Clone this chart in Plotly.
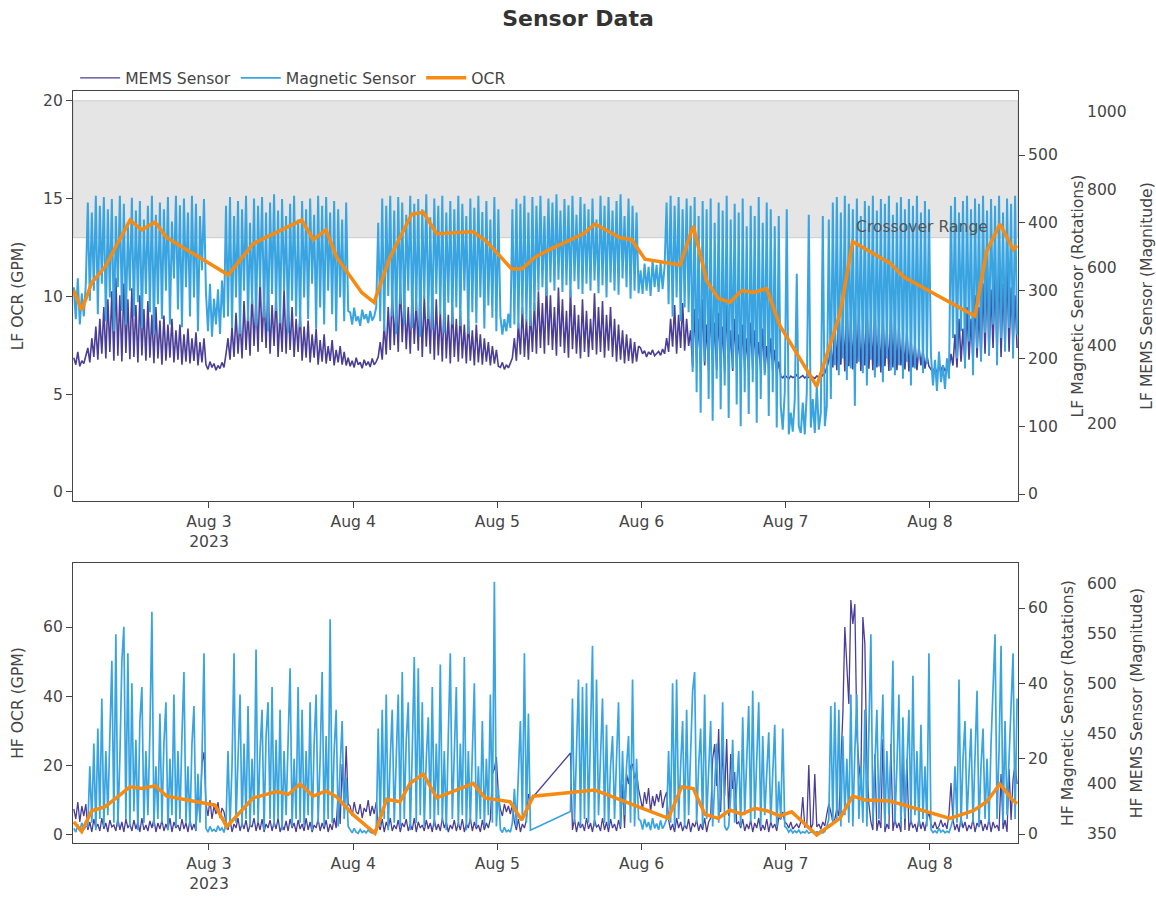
import pandas as pd
import plotly.graph_objects as go

# ---------------------------------------------------------------------------
# Sensor readings, sampled every 20 minutes from 2023-08-02 01:30
# ---------------------------------------------------------------------------
START = "2023-08-02 01:30"
STEP = "20min"

# Low-flow magnetic sensor (rotations)
LF_MAGNETIC = [
    305, 258, 318, 250, 296, 262, 310,
    430, 285, 415, 300, 440, 265, 425, 310, 438, 255, 420, 290, 435, 240, 410, 305, 440, 270, 428, 250,
    395, 300, 437, 262, 418, 283, 432, 245, 405, 295, 425, 268, 440, 236, 412, 280, 430, 258, 420, 300,
    438, 250, 402, 318, 440, 272, 426, 246, 436, 305, 415, 262, 440, 290, 428, 240, 410, 330, 435,
    296, 240, 310, 232, 288, 250, 302, 236, 315, 260,
    425, 262, 438, 245, 410, 290, 432, 236, 420, 300, 440, 255, 400, 280, 436, 248, 425, 305, 438, 260,
    415, 240, 430, 295, 442, 270, 418, 252, 435, 300, 410, 238, 428, 285, 440, 262, 405, 246, 432, 290,
    420, 258, 436, 310, 412, 244, 440, 275, 425, 250, 438, 300, 415, 265, 432, 240, 420, 290, 405, 255,
    430, 270,
    268, 250, 275, 255, 262, 248, 272, 258, 265, 252, 270, 256, 262, 275,
    400, 255, 436, 240, 425, 292, 440, 262, 418, 236, 438, 280, 430, 250, 412, 300, 440, 245, 428, 270,
    435, 232, 420, 288, 442, 258, 408, 242, 436, 295, 425, 265, 440, 238, 415, 282, 432, 250, 420, 275,
    440, 248, 428, 300, 410, 236, 436, 268, 422, 252, 440, 290, 416, 244, 432, 278, 405, 260, 438, 240,
    420,
    262, 235, 258, 240, 266, 245,
    420, 250, 436, 244, 428, 265, 440, 255, 415, 248, 438, 270, 425, 300, 440, 305, 410, 292, 436, 312,
    430, 300, 442, 316, 418, 298, 435, 308, 426, 290, 440, 314, 412, 302, 438, 295, 428, 310, 420, 300,
    436, 315, 405, 296, 440, 308, 425, 290, 438, 312, 418, 300, 432, 294, 442, 318, 410, 305, 436, 288,
    425, 300, 415, 296,
    330, 295, 340, 300, 335, 292, 345, 305, 338, 298, 342, 302, 336,
    430, 280, 440, 262, 425, 290, 438, 255, 420, 275, 436, 268,
    425, 180, 438, 150, 410, 120, 432, 195, 420, 140, 436, 108, 400, 170, 430, 125, 418, 160, 440, 112,
    405, 185, 428, 132, 415, 100, 436, 150, 395, 118, 425, 165, 410, 105, 438, 140, 400, 175, 430, 115,
    420, 150, 395, 98, 410,
    130, 95, 150, 420, 88, 120, 92, 140, 325, 100, 90, 135, 88, 150, 412, 98, 140, 90, 160, 95,
    120, 410, 100, 130, 405,
    140, 430, 190, 438, 175, 415, 200, 440, 168, 428, 185, 420, 130, 436, 195, 410, 178, 432, 160, 425,
    198, 440, 172, 418, 188, 435, 165, 428, 200, 440, 182, 412, 175, 430, 190, 438, 170, 420, 195, 435,
    160, 425, 185, 440, 200, 415, 178, 432, 192, 420,
    205, 160, 198, 152, 210, 165, 190, 155, 200, 170,
    425, 230, 438, 200, 415, 240, 432, 185, 440, 225, 420, 175, 436, 215, 428, 195, 440, 238, 418, 205,
    435, 250, 425, 190, 440, 230, 415, 210, 436, 245, 428, 200, 440, 235,
]

# Low-flow MEMS sensor (magnitude)
LF_MEMS = [
    370, 352, 385, 348, 362, 355, 375,
    395, 358, 420, 372, 450, 365, 470, 380, 500, 368, 520, 385, 540, 362, 575, 375, 530, 360, 560, 382,
    520, 366, 548, 372, 505, 358, 530, 376, 495, 362, 515, 370, 480, 356, 500, 368, 465, 352, 478, 362,
    455, 370, 470, 358, 440, 365, 455, 352, 430, 360, 445, 355, 420, 362, 435, 350, 410, 358, 420,
    352, 340, 360, 345, 355, 338, 350, 342, 358, 345,
    380, 420, 365, 450, 372, 485, 380, 470, 368, 515, 390, 490, 375, 540, 400, 520, 385, 575, 410, 530,
    395, 560, 380, 505, 400, 535, 372, 490, 385, 545, 380, 520, 390, 500, 372, 470, 385, 490, 362, 450,
    370, 465, 358, 430, 370, 445, 352, 415, 360, 430, 355, 400, 362, 415, 350, 390, 358, 400, 352, 385,
    350, 370,
    348, 362, 345, 370, 352, 358, 343, 365, 350, 360, 346, 368, 352, 360,
    372, 410, 365, 455, 378, 500, 390, 545, 402, 520, 385, 570, 410, 530, 392, 500, 380, 545, 405, 515,
    388, 560, 372, 530, 398, 505, 380, 548, 365, 520, 376, 490, 360, 525, 368, 480, 355, 505, 372, 470,
    360, 490, 368, 455, 355, 470, 362, 440, 350, 455, 358, 430, 352, 420, 360, 410, 350, 400, 355, 390,
    348,
    345, 358, 340, 352, 344, 356,
    370, 420, 362, 460, 378, 500, 372, 470, 365, 490, 385, 510, 380, 540, 395, 510, 380, 565, 402, 530,
    390, 500, 375, 550, 398, 520, 382, 490, 370, 545, 392, 505, 380, 480, 368, 520, 385, 490, 372, 470,
    390, 535, 378, 500, 385, 515, 370, 480, 388, 500, 372, 470, 360, 455, 365, 440, 355, 430, 362, 420,
    355, 410, 360, 400,
    395, 380, 388, 372, 385, 378, 390, 375, 382, 386, 376, 392, 380,
    420, 385, 470, 398, 505, 380, 480, 395, 510, 388, 470, 400,
    440, 345, 495, 360, 470, 335, 520, 350, 455, 340, 500, 355, 460, 338, 485, 348, 450, 332, 505, 352,
    440, 336, 470, 345, 430, 330, 455, 342, 420, 335, 460, 340, 440, 350, 410, 335, 445, 330, 400, 342,
    420, 335, 390, 330, 360,
    322, 318, 325, 320, 316, 323, 319, 321, 326, 317, 320, 324, 318, 322, 319, 325, 320, 317, 323, 321,
    318, 326, 330, 345, 362,
    400, 345, 460, 338, 505, 352, 480, 335, 530, 348, 470, 340, 510, 355, 490, 336, 455, 350, 520, 342,
    475, 338, 500, 345, 460, 332, 485, 348, 450, 336, 495, 345, 470, 338, 455, 350, 430, 340, 445, 335,
    420, 345, 410, 338, 400, 350, 390, 342, 375, 348,
    340, 335, 345, 332, 342, 338, 350, 336, 344, 340,
    380, 350, 430, 345, 470, 360, 445, 352, 500, 365, 470, 358, 530, 370, 500, 362, 560, 380, 590, 375,
    545, 395, 580, 380, 610, 372, 560, 390, 600, 385, 550, 400, 530, 395,
]

# High-flow magnetic sensor (rotations); None marks the logging outage on Aug 5
HF_MAGNETIC = [
    1.5, 0.5, 2.5, 0.8, 3.0, 1.2, 2.0,
    2, 18, 3, 24, 1, 28, 4, 36, 2, 22, 5, 26, 46, 3, 53, 2, 20, 46, 55, 4,
    48, 2, 40, 6, 25, 1, 30, 39, 3, 22, 5, 27, 59, 2, 18, 4, 32, 3, 24, 35,
    1, 20, 5, 37, 2, 22, 4, 26, 43, 3, 18, 2, 24, 34, 1, 16, 3, 20, 48,
    1.5, 0.5, 2.0, 0.8, 1.2, 0.6, 2.2, 0.9, 1.6, 0.4,
    3, 22, 2, 18, 48, 3, 20, 37, 2, 24, 4, 34, 2, 20, 5, 49, 3, 22, 33, 1,
    26, 35, 4, 39, 2, 25, 4, 33, 1, 22, 5, 28, 44, 2, 20, 4, 39, 3, 33, 2,
    22, 5, 35, 1, 24, 37, 3, 20, 43, 2, 26, 4, 57, 3, 22, 33, 2, 18, 30, 4,
    15, 2,
    1.0, 0.3, 1.5, 0.5, 0.2, 1.2, 0.4, 0.8, 0.3, 1.1, 0.5, 0.2, 0.9, 0.4,
    28, 2, 33, 4, 37, 1, 20, 33, 3, 22, 37, 2, 43, 4, 25, 35, 1, 22, 47, 3,
    44, 5, 35, 2, 20, 31, 4, 39, 2, 24, 5, 45, 3, 22, 1, 26, 48, 4, 20, 39,
    2, 24, 5, 47, 1, 22, 3, 25, 40, 2, 18, 4, 30, 2, 20, 5, 37, 3, 67, 2,
    12,
    1.2, 0.4, 1.8, 0.6, 1.0, 0.5,
    3, 12, 2, 18, 30, 4, 48, 3, 32, 1,
    None, None, None, None, None, None, None, None, None, None,
    None, None, None, None, None, None, None, None, None,
    6, 36, 3, 22, 41, 2, 39, 4, 40, 3, 24, 50, 2, 41, 5, 20, 36, 3, 29, 2,
    18, 26, 4, 20, 35, 2, 22, 5, 18, 26, 3, 41, 2, 20, 4,
    3.5, 1.2, 4.0, 1.8, 3.2, 1.0, 4.2, 1.5, 2.8, 1.1, 3.6, 1.4, 2.5, 4.0,
    22, 3, 40, 2, 41, 4, 18, 30, 2, 33, 5, 20, 38, 43, 3, 18, 28, 2, 37, 4,
    16, 30, 2, 15, 24, 3, 12, 35, 2, 1, 2, 10, 25, 3, 14, 22, 2, 31, 5, 18,
    34, 3, 38, 4, 20, 35, 2, 26, 5, 16, 27, 3, 18, 29, 2, 14, 4, 28, 2,
    1.5, 0.5, 1.2, 0.3, 0.8, 0.4, 1.0, 0.2, 0.6, 0.3, 0.9, 0.2, 0.5, 0.8, 0.3, 0.6,
    0.4, 1.0, 0.3, 0.7, 2.0, 4.0,
    34, 3, 35, 4, 33, 2, 26, 5, 20, 3, 37, 2, 22, 37, 4, 18, 3, 33, 2, 24,
    53, 3, 20, 33, 4, 18, 37, 2, 22, 5, 20, 46, 3, 18, 37, 2, 31, 4, 20, 33,
    3, 42, 5, 22, 2, 29, 4, 18, 2, 48,
    1.2, 0.4, 0.8, 0.3, 1.5, 0.5, 1.0, 0.3, 0.7, 0.4, 2.0,
    4, 18, 3, 41, 2, 20, 30, 4, 16, 28, 3, 22, 38, 2, 18, 28, 4, 20, 3, 24,
    41, 53, 4, 22, 50, 3, 30, 5, 20, 36, 48, 4, 36,
]

# High-flow MEMS sensor (magnitude)
HF_MEMS = [
    375, 365, 382, 362, 378, 368, 380,
    354, 362, 352, 365, 356, 360, 353, 366, 355, 361, 352, 364, 357, 359, 353, 366, 354, 362, 352, 365,
    356, 360, 353, 364, 355, 362, 352, 366, 354, 359, 353, 363, 356, 365, 352, 361, 355, 364, 353, 360,
    354, 366, 352, 362, 356, 359, 353, 365, 355, 361, 352, 364, 354, 360, 353, 395, 365, 420, 432,
    380, 368, 384, 365, 378, 370, 382, 366, 376, 372,
    362, 354, 365, 352, 360, 356, 366, 353, 361, 355, 364, 352, 359, 357, 366, 353, 362, 354, 365, 352,
    360, 356, 364, 353, 362, 355, 366, 352, 359, 354, 363, 353, 365, 356, 361, 352, 364, 355, 360, 353,
    366, 354, 362, 352, 359, 356, 365, 353, 361, 355, 364, 352, 360, 354, 366, 356, 392, 360, 420, 380,
    438, 380,
    378, 368, 382, 372, 370, 380, 366, 376, 372, 384, 368, 378, 370, 382,
    360, 354, 365, 352, 362, 356, 366, 353, 359, 355, 364, 352, 361, 357, 365, 353, 360, 354, 366, 352,
    362, 356, 359, 353, 364, 355, 361, 352, 365, 354, 360, 353, 366, 356, 362, 352, 359, 355, 364, 353,
    361, 354, 365, 352, 360, 356, 366, 353, 362, 355, 359, 352, 364, 354, 361, 356, 365, 410, 415, 427,
    390,
    375, 368, 380, 372, 378, 370,
    380, 362, 354, 365, 352, 360, 356, 364, 390, 384,
    None, None, None, None, None, None, None, None, None, None,
    None, None, None, None, None, None, None, None, None,
    431, 354, 365, 352, 362, 356, 360, 353, 366, 355, 361, 352, 364, 357, 359, 353, 366, 354, 362, 352,
    365, 356, 360, 353, 364, 355, 400, 356, 410, 400, 418, 420, 405, 412, 395,
    385, 375, 392, 380, 396, 372, 388, 378, 390, 382, 394, 376, 386, 392,
    364, 354, 360, 352, 366, 356, 362, 353, 359, 355, 365, 352, 361, 357, 364, 353, 360, 354, 366, 352,
    362, 366, 425, 440, 398, 455, 372, 438, 388, 445, 368, 430, 395, 412, 360, 362, 356, 365, 353, 360,
    355, 364, 352, 361, 356, 366, 353, 359, 354, 365, 352, 362, 356, 360, 353, 366, 365, 372, 362,
    360, 356, 362, 355, 358, 360, 356, 362, 387, 357, 358, 419, 355, 360, 410, 357, 360, 355, 362, 358,
    370, 380,
    372, 362, 365, 375, 368, 420, 470, 557, 520, 480, 584, 560, 580, 450, 420, 400, 567, 540, 420, 380,
    362, 354, 430, 353, 364, 356, 445, 352, 360, 355, 440, 353, 365, 356, 361, 352, 430, 354, 425, 353,
    364, 356, 360, 352, 366, 355, 362, 353, 365, 372,
    360, 356, 362, 355, 358, 364, 357, 361, 355, 370, 401,
    364, 354, 360, 352, 366, 356, 362, 353, 359, 355, 365, 352, 361, 357, 364, 353, 360, 354, 366, 352,
    362, 356, 359, 353, 410, 355, 364, 352, 415, 364, 405, 420, 400,
]

# Observed consumption rate (GPM) at each meter check
LF_OCR_TIME = [
    "2023-08-02 01:30", "2023-08-02 02:49", "2023-08-02 04:29", "2023-08-02 06:41",
    "2023-08-02 10:51", "2023-08-02 12:48", "2023-08-02 15:01", "2023-08-02 16:58",
    "2023-08-03 03:13", "2023-08-03 07:22", "2023-08-03 15:26", "2023-08-03 17:22",
    "2023-08-03 19:28", "2023-08-03 21:15", "2023-08-04 01:25", "2023-08-04 03:28",
    "2023-08-04 06:08", "2023-08-04 09:44", "2023-08-04 11:40", "2023-08-04 13:54",
    "2023-08-04 19:59", "2023-08-04 22:13", "2023-08-05 02:23", "2023-08-05 04:03",
    "2023-08-05 06:16", "2023-08-05 08:45", "2023-08-05 14:18", "2023-08-05 16:15",
    "2023-08-05 20:25", "2023-08-05 22:21", "2023-08-06 00:34", "2023-08-06 06:24",
    "2023-08-06 08:36", "2023-08-06 10:50", "2023-08-06 12:46", "2023-08-06 14:43",
    "2023-08-06 16:40", "2023-08-06 18:36", "2023-08-06 20:49", "2023-08-06 23:02",
    "2023-08-07 05:09", "2023-08-07 09:01", "2023-08-07 11:08", "2023-08-07 17:21",
    "2023-08-07 19:34", "2023-08-08 07:29", "2023-08-08 09:26", "2023-08-08 11:39",
    "2023-08-08 13:52", "2023-08-08 14:30",
]
LF_OCR = [
    10.3, 9.3, 10.7, 11.5, 13.9, 13.4, 13.8, 13.0, 11.1, 12.7, 13.9, 12.9, 13.4, 12.0,
    10.2, 9.7, 12.0, 14.2, 14.3, 13.2, 13.3, 12.8, 11.4, 11.4, 12.0, 12.4, 13.2, 13.7,
    13.0, 12.9, 11.9, 11.6, 13.6, 10.8, 9.9, 9.7, 10.3, 10.2, 10.4, 8.5, 5.4, 9.1,
    12.8, 11.7, 11.0, 9.0, 12.3, 13.7, 12.4, 12.6,
]

HF_OCR_TIME = [
    "2023-08-02 01:30", "2023-08-02 02:49", "2023-08-02 04:29", "2023-08-02 06:41",
    "2023-08-02 10:51", "2023-08-02 12:48", "2023-08-02 15:01", "2023-08-02 16:58",
    "2023-08-03 01:00", "2023-08-03 02:57", "2023-08-03 07:22", "2023-08-03 11:16",
    "2023-08-03 13:12", "2023-08-03 15:09", "2023-08-03 17:22", "2023-08-03 19:28",
    "2023-08-03 21:15", "2023-08-04 00:01", "2023-08-04 03:38", "2023-08-04 05:35",
    "2023-08-04 07:47", "2023-08-04 09:27", "2023-08-04 11:40", "2023-08-04 13:54",
    "2023-08-04 19:59", "2023-08-04 21:56", "2023-08-05 02:06", "2023-08-05 04:03",
    "2023-08-05 05:59", "2023-08-05 16:15", "2023-08-06 04:27", "2023-08-06 06:41",
    "2023-08-06 08:36", "2023-08-06 10:34", "2023-08-06 12:46", "2023-08-06 14:43",
    "2023-08-06 16:40", "2023-08-06 18:53", "2023-08-06 20:49", "2023-08-06 23:02",
    "2023-08-07 00:59", "2023-08-07 05:09", "2023-08-07 09:01", "2023-08-07 11:08",
    "2023-08-07 13:11", "2023-08-07 17:21", "2023-08-08 03:20", "2023-08-08 07:13",
    "2023-08-08 09:26", "2023-08-08 11:39", "2023-08-08 13:46", "2023-08-08 14:30",
]
HF_OCR = [
    3.8, 1.0, 7.0, 8.1, 13.9, 13.4, 14.2, 11.2, 8.6, 2.4, 10.7, 12.5, 11.7, 14.7,
    11.2, 12.7, 11.0, 5.8, 0.5, 10.3, 9.6, 14.9, 17.6, 10.7, 14.9, 10.7, 9.6, 4.3,
    11.2, 12.95, 4.8, 13.9, 13.4, 5.95, 4.8, 7.2, 6.0, 7.7, 7.0, 5.5, 6.7, 0.0,
    4.8, 11.2, 10.1, 9.8, 4.8, 7.0, 9.6, 14.7, 10.1, 9.0,
]

# ---------------------------------------------------------------------------
# Styling
# ---------------------------------------------------------------------------
FONT = "Verdana, DejaVu Sans, sans-serif"
TEXT = "#454545"
PURPLE = "#4a3f97"
BLUE = "#3aa4e0"
ORANGE = "#f78b12"
FS = 15.6

X_RANGE = ["2023-08-02 01:22", "2023-08-08 14:39"]
X_DOMAIN = [0, 0.8766]
FREE_POS = 0.9397
TOP_DOMAIN = [0.4548, 1.0]
BOTTOM_DOMAIN = [0.0, 0.3723]

# sample timestamps as plain strings
t_lf = pd.date_range(START, periods=len(LF_MAGNETIC), freq=STEP).strftime("%Y-%m-%d %H:%M").tolist()
t_hf = pd.date_range(START, periods=len(HF_MAGNETIC), freq=STEP).strftime("%Y-%m-%d %H:%M").tolist()

fig = go.Figure()

# High-flow panel (carries the legend entries): MEMS on the base axis,
# magnetic and OCR on overlaid axes drawn above it
fig.add_trace(go.Scatter(x=t_hf, y=HF_MEMS, name="MEMS Sensor", mode="lines",
                         line=dict(color=PURPLE, width=1.3), connectgaps=True,
                         xaxis="x2", yaxis="y4", legendgroup="mems"))
fig.add_trace(go.Scatter(x=t_hf, y=HF_MAGNETIC, name="Magnetic Sensor", mode="lines",
                         line=dict(color=BLUE, width=1.7), connectgaps=True,
                         xaxis="x2", yaxis="y5", legendgroup="mag"))
fig.add_trace(go.Scatter(x=HF_OCR_TIME, y=HF_OCR, name="OCR", mode="lines",
                         line=dict(color=ORANGE, width=3.5),
                         xaxis="x2", yaxis="y6", legendgroup="ocr"))

# Low-flow panel
fig.add_trace(go.Scatter(x=t_lf, y=LF_MEMS, name="MEMS Sensor", mode="lines",
                         line=dict(color=PURPLE, width=1.6),
                         xaxis="x", yaxis="y", legendgroup="mems", showlegend=False))
fig.add_trace(go.Scatter(x=t_lf, y=LF_MAGNETIC, name="Magnetic Sensor", mode="lines",
                         line=dict(color=BLUE, width=2.0),
                         xaxis="x", yaxis="y2", legendgroup="mag", showlegend=False))
fig.add_trace(go.Scatter(x=LF_OCR_TIME, y=LF_OCR, name="OCR", mode="lines",
                         line=dict(color=ORANGE, width=3.5),
                         xaxis="x", yaxis="y3", legendgroup="ocr", showlegend=False))

tickfont = dict(family=FONT, size=FS, color=TEXT)
titlefont = dict(family=FONT, size=FS, color=TEXT)
base = dict(showgrid=False, zeroline=False, tickfont=tickfont,
            linecolor=TEXT, tickcolor=TEXT, ticklen=6, tickwidth=1)


def make_xaxis(anchor):
    return dict(base, domain=X_DOMAIN, anchor=anchor, range=X_RANGE, type="date",
                showline=True, mirror=True, ticks="outside",
                dtick=86400000, tick0="2023-08-03")


def mems_axis(domain, rng, dtick, title):
    return dict(base, domain=domain, anchor="free", position=FREE_POS, side="right",
                range=rng, dtick=dtick, showline=False, ticks="", automargin=False,
                title=dict(text=title, font=titlefont))


def magnetic_axis(over, anchor, rng, dtick, title):
    return dict(base, overlaying=over, anchor=anchor, side="right",
                range=rng, dtick=dtick, showline=True, ticks="outside", automargin=False,
                title=dict(text=title, font=titlefont))


def ocr_axis(over, anchor, rng, dtick, title):
    return dict(base, overlaying=over, anchor=anchor, side="left",
                range=rng, dtick=dtick, showline=True, ticks="outside", automargin=False,
                title=dict(text=title, font=titlefont))


fig.update_layout(
    width=1156, height=899,
    margin=dict(l=73, r=5, t=91, b=56, autoexpand=False),
    paper_bgcolor="white", plot_bgcolor="white",
    font=dict(family=FONT, size=FS, color=TEXT),
    title=dict(text="<b>Sensor Data</b>", x=0.5, xanchor="center",
               y=0.98, yanchor="middle",
               font=dict(family=FONT, size=22, color="#333333")),
    showlegend=True,
    legend=dict(orientation="h", x=0.002, xanchor="left", y=1.017, yanchor="middle",
                font=dict(family=FONT, size=FS, color=TEXT),
                itemwidth=40, bgcolor="rgba(0,0,0,0)", traceorder="normal"),
    xaxis=make_xaxis("y"),
    xaxis2=make_xaxis("y4"),
    yaxis=mems_axis(TOP_DOMAIN, [2.6, 1053.8], 200, "LF MEMS Sensor (Magnitude)"),
    yaxis2=magnetic_axis("y", "x", [-10.3, 594.4], 100, "LF Magnetic Sensor (Rotations)"),
    yaxis3=ocr_axis("y", "x", [-0.46, 20.5], 5, "LF OCR (GPM)"),
    yaxis4=mems_axis(BOTTOM_DOMAIN, [341, 621], 50, "HF MEMS Sensor (Magnitude)"),
    yaxis5=magnetic_axis("y4", "x2", [-2.39, 71.94], 20, "HF Magnetic Sensor (Rotations)"),
    yaxis6=ocr_axis("y4", "x2", [-2.31, 78.46], 20, "HF OCR (GPM)"),
)

# Crossover band on the low-flow OCR scale
fig.add_shape(type="rect", xref="x domain", yref="y3", x0=0, x1=1, y0=13, y1=20,
              fillcolor="#e5e5e5", line=dict(color="#cccccc", width=1), layer="below")
fig.add_annotation(xref="x domain", yref="y3", x=0.9704, y=13, text="Crossover Range",
                   showarrow=False, xanchor="right", yanchor="bottom",
                   font=dict(family=FONT, size=FS, color="#555555"))

fig.write_html("out.html")
